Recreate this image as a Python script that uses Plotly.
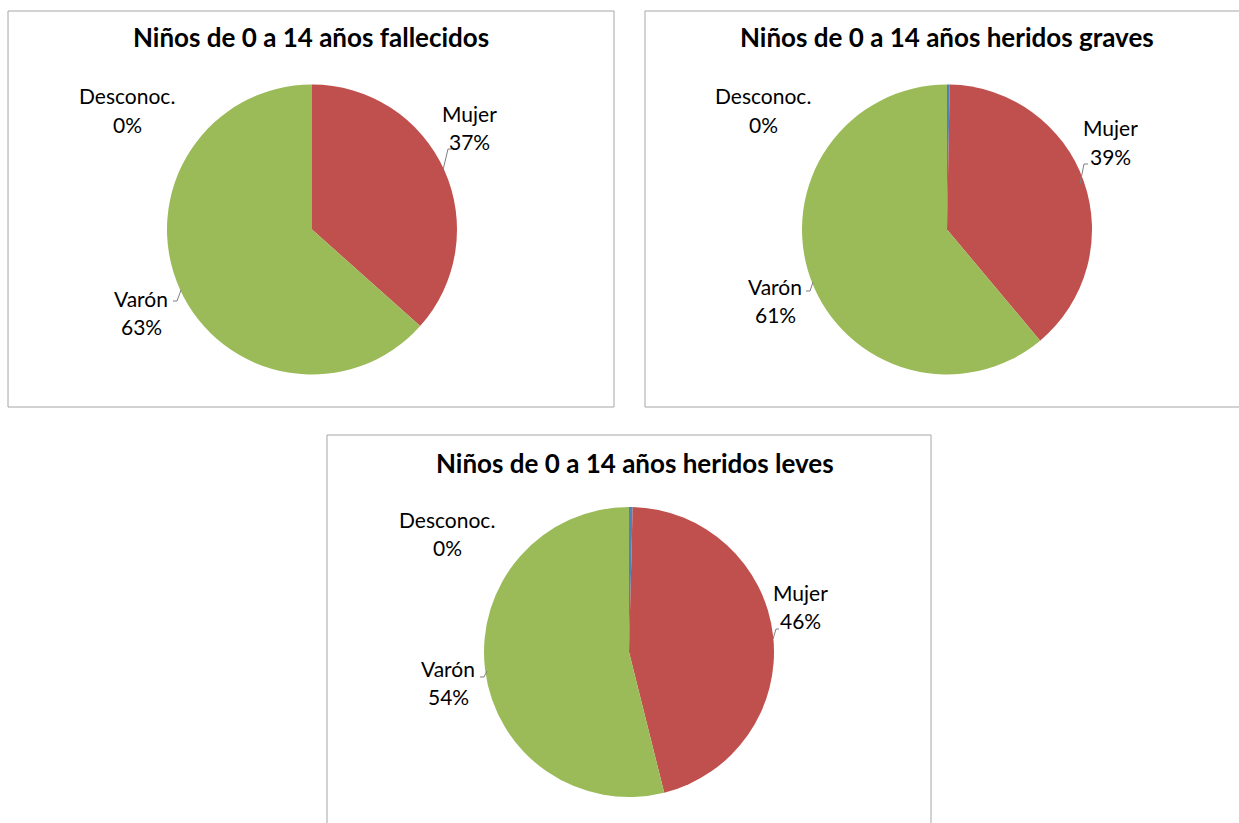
import plotly.graph_objects as go

W, H = 1239, 823

# ---- data ----
categories = ["Desconoc.", "Mujer", "Varón"]
fallecidos = [0.0, 36.6, 63.4]
heridos_graves = [0.3, 38.6, 61.1]
heridos_leves = [0.4, 45.7, 53.9]
titles = [
    "Niños de 0 a 14 años fallecidos",
    "Niños de 0 a 14 años heridos graves",
    "Niños de 0 a 14 años heridos leves",
]
colors = ["#4F81BD", "#C0504D", "#9BBB59"]

FONT = "Lato"


def fx(x):
    return x / W


def fy(y):
    return 1 - y / H


charts = [
    dict(values=fallecidos, title=titles[0], box=(8, 11, 614, 407),
         center=(312, 229.5), r=145, title_xy=(311, 37),
         labels={"Desconoc.": (127, 96), "Mujer": (469, 113), "Varón": (141, 298)},
         leaders=[[(452, 149), (448, 149), (443, 170)],
                  [(173, 301), (177, 301), (181, 290)]]),
    dict(values=heridos_graves, title=titles[1], box=(645, 11, 1251, 407),
         center=(947, 229.5), r=145, title_xy=(947, 37),
         labels={"Desconoc.": (763, 96), "Mujer": (1110, 128), "Varón": (775, 286)},
         leaders=[[(1088, 164), (1084, 164), (1080, 184)],
                  [(806, 291), (810, 291), (813, 282)]]),
    dict(values=heridos_leves, title=titles[2], box=(327, 435, 931, 831),
         center=(629, 652), r=145, title_xy=(635, 463),
         labels={"Desconoc.": (447, 519), "Mujer": (800, 592), "Varón": (448, 668)},
         leaders=[[(779, 629), (776, 629), (773, 639)],
                  [(480, 677), (484, 677), (487, 671)]]),
]

fig = go.Figure()
shapes = []
annotations = []

for ch in charts:
    cx, cy = ch["center"]
    r = ch["r"]
    fig.add_trace(go.Pie(
        labels=categories,
        values=ch["values"],
        sort=False,
        direction="clockwise",
        rotation=0,
        marker=dict(colors=colors, line=dict(width=0)),
        textinfo="none",
        hoverinfo="label+percent",
        showlegend=False,
        domain=dict(x=[fx(cx - r), fx(cx + r)], y=[fy(cy + r), fy(cy - r)]),
    ))
    x0, y0, x1, y1 = ch["box"]
    shapes.append(dict(type="rect", xref="paper", yref="paper",
                       x0=fx(x0), x1=fx(x1), y0=fy(y1), y1=fy(y0),
                       line=dict(color="#A6A6A6", width=1), fillcolor="rgba(0,0,0,0)",
                       layer="below"))
    tx, ty = ch["title_xy"]
    annotations.append(dict(text="<b>" + ch["title"] + "</b>", x=fx(tx), y=fy(ty),
                            xref="paper", yref="paper", showarrow=False,
                            xanchor="center", yanchor="middle",
                            font=dict(family=FONT, size=26, color="#000000")))
    total = sum(ch["values"])
    for cat, val in zip(categories, ch["values"]):
        lx, ly = ch["labels"][cat]
        pct = int(val / total * 100 + 0.5)
        annotations.append(dict(text=cat, x=fx(lx), y=fy(ly), xref="paper", yref="paper",
                                showarrow=False, xanchor="center", yanchor="middle",
                                font=dict(family=FONT, size=21, color="#000000")))
        annotations.append(dict(text=f"{pct}%", x=fx(lx), y=fy(ly + 28), xref="paper",
                                yref="paper", showarrow=False, xanchor="center",
                                yanchor="middle",
                                font=dict(family=FONT, size=21, color="#000000")))
    for pts in ch["leaders"]:
        path = "M " + " L ".join(f"{fx(px_)},{fy(py_)}" for px_, py_ in pts)
        shapes.append(dict(type="path", xref="paper", yref="paper", path=path,
                           line=dict(color="#7F7F7F", width=1)))

fig.update_layout(
    width=W, height=H,
    margin=dict(l=0, r=0, t=0, b=0),
    paper_bgcolor="#FFFFFF",
    plot_bgcolor="#FFFFFF",
    shapes=shapes,
    annotations=annotations,
)

fig.write_html("out.html")
